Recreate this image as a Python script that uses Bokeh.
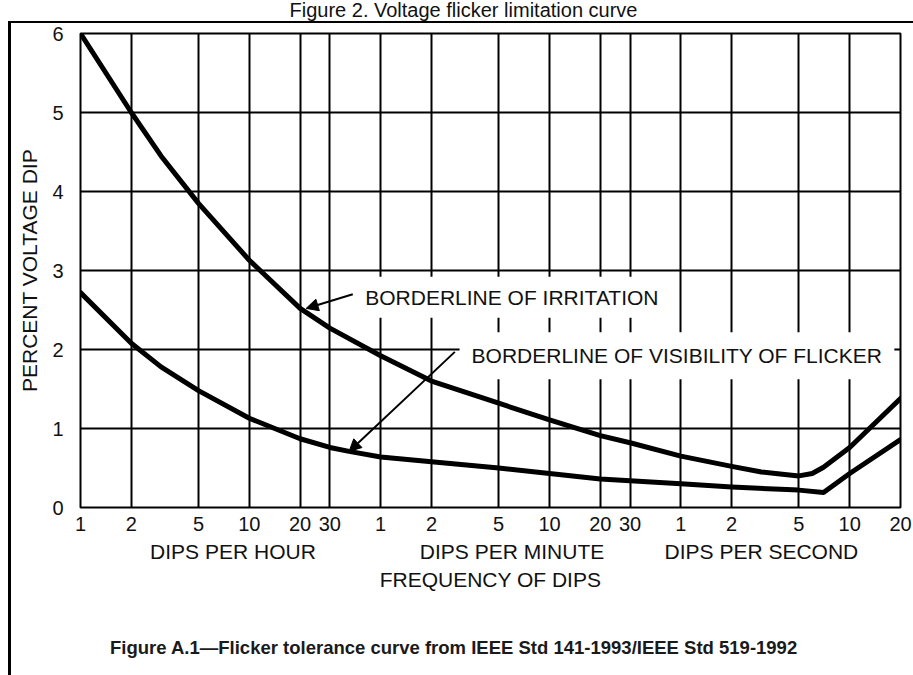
from bokeh.plotting import figure
from bokeh.models import (FixedTicker, LogAxis, Label, Arrow, NormalHead, Range1d,
                          Div, Spacer)
from bokeh.layouts import column, row
from bokeh.embed import file_html
from bokeh.resources import INLINE

# ---- data (frequency in dips per hour, value in percent voltage dip) ----
irritation_freq = [1, 2, 3, 5, 10, 20, 30, 60, 120, 300, 600, 1200, 1800,
                   3600, 7200, 10800, 14400, 18000, 21600, 25200, 36000, 72000]
irritation_pct = [6.0, 5.0, 4.45, 3.85, 3.13, 2.52, 2.27, 1.92, 1.60, 1.32,
                  1.11, 0.91, 0.82, 0.65, 0.52, 0.45, 0.42, 0.40, 0.43, 0.51,
                  0.76, 1.38]

visibility_freq = [1, 2, 3, 5, 10, 20, 30, 39, 60, 120, 300, 600, 1200, 1800,
                   3600, 7200, 18000, 25200, 36000, 72000]
visibility_pct = [2.72, 2.08, 1.78, 1.48, 1.13, 0.87, 0.76, 0.71, 0.64, 0.58,
                  0.50, 0.43, 0.36, 0.34, 0.30, 0.26, 0.22, 0.19, 0.43, 0.86]

tick_freq = [1, 2, 5, 10, 20, 30, 60, 120, 300, 600, 1200, 1800,
             3600, 7200, 18000, 36000, 72000]
tick_labels = ["1", "2", "5", "10", "20", "30", "1", "2", "5", "10", "20", "30",
               "1", "2", "5", "10", "20"]
group_freq = [8, 360, 10800]
group_labels = ["DIPS PER HOUR", "DIPS PER MINUTE", "DIPS PER SECOND"]
y_ticks = [0, 1, 2, 3, 4, 5, 6]

FONT = "Liberation Sans"
INK = "#111111"

p = figure(width=902, height=612, x_axis_type="log", title=None,
           x_range=Range1d(1, 72000), y_range=Range1d(0, 6),
           output_backend="svg", toolbar_location=None,
           min_border_left=69, min_border_right=13,
           min_border_top=10, min_border_bottom=128, margin=0)
p.background_fill_color = "white"
p.border_fill_color = "white"
p.outline_line_color = "black"
p.outline_line_width = 2

# x axis (tick numbers)
xa = p.xaxis[0]
xa.ticker = FixedTicker(ticks=tick_freq)
xa.major_label_overrides = {f: t for f, t in zip(tick_freq, tick_labels)}
xa.axis_line_color = None
xa.major_tick_line_color = None
xa.minor_tick_line_color = None
xa.major_label_standoff = 3
xa.major_label_text_font = FONT
xa.major_label_text_font_size = "20px"
xa.major_label_text_color = INK

# second x axis (group names + axis title)
xa2 = LogAxis(ticker=FixedTicker(ticks=group_freq),
              major_label_overrides={f: t for f, t in zip(group_freq, group_labels)},
              axis_label="FREQUENCY OF DIPS")
xa2.axis_line_color = None
xa2.major_tick_line_color = None
xa2.minor_tick_line_color = None
xa2.major_label_standoff = 0
xa2.major_label_text_font = FONT
xa2.major_label_text_font_size = "21px"
xa2.major_label_text_color = INK
xa2.axis_label_standoff = 2
xa2.axis_label_text_font = FONT
xa2.axis_label_text_font_size = "21px"
xa2.axis_label_text_font_style = "normal"
xa2.axis_label_text_color = INK
p.add_layout(xa2, "below")

ya = p.yaxis[0]
ya.ticker = FixedTicker(ticks=y_ticks)
ya.axis_line_color = None
ya.major_tick_line_color = None
ya.minor_tick_line_color = None
ya.major_label_standoff = 11
ya.major_label_text_font = FONT
ya.major_label_text_font_size = "20px"
ya.major_label_text_color = INK
ya.axis_label = "PERCENT VOLTAGE DIP"
ya.axis_label_standoff = 8
ya.axis_label_text_font = FONT
ya.axis_label_text_font_size = "21px"
ya.axis_label_text_font_style = "normal"
ya.axis_label_text_color = INK

p.xgrid.ticker = FixedTicker(ticks=tick_freq)
p.ygrid.ticker = FixedTicker(ticks=y_ticks)
for g in (p.xgrid[0], p.ygrid[0]):
    g.grid_line_color = "black"
    g.grid_line_width = 2
    g.grid_line_alpha = 1.0
    g.minor_grid_line_color = None

# annotation texts (white boxes hide grid behind them)
lab1 = Label(x=43, y=2.66, text="BORDERLINE OF IRRITATION",
             text_align="left", text_baseline="middle",
             text_font=FONT, text_font_size="21px", text_color=INK,
             background_fill_color="white", padding=9, level="underlay")
lab2 = Label(x=176, y=1.92, text="BORDERLINE OF VISIBILITY OF FLICKER",
             text_align="left", text_baseline="middle",
             text_font=FONT, text_font_size="21px", text_color=INK,
             background_fill_color="white", padding=12, level="underlay")
p.add_layout(lab1)
p.add_layout(lab2)

p.line(irritation_freq, irritation_pct, line_color="black", line_width=5,
       line_join="round", line_cap="round")
p.line(visibility_freq, visibility_pct, line_color="black", line_width=5,
       line_join="round", line_cap="round")

p.add_layout(Arrow(x_start=41, y_start=2.70, x_end=21.7, y_end=2.52,
                   line_width=2, line_color="black",
                   end=NormalHead(size=12, fill_color="black", line_color="black")))
p.add_layout(Arrow(x_start=165, y_start=1.97, x_end=39, y_end=0.71,
                   line_width=2, line_color="black",
                   end=NormalHead(size=12, fill_color="black", line_color="black")))

# document title, caption and the page frame rules
title_div = Div(text="Figure 2. Voltage flicker limitation curve", width=913, height=21,
                margin=0,
                styles={"font-family": "Liberation Sans", "font-size": "20px",
                        "line-height": "20px", "text-align": "center",
                        "color": "#111111", "text-indent": "14px"})
caption_div = Div(text="Figure A.1\u2014Flicker tolerance curve from IEEE Std 141-1993/IEEE Std 519-1992",
                  width=902, height=40, margin=0,
                  styles={"font-family": "Liberation Sans", "font-size": "18.5px",
                          "font-weight": "bold", "line-height": "26px",
                          "color": "#1a1a1a", "text-indent": "99px",
                          "white-space": "nowrap"})
top_rule = row(Spacer(width=8, height=2, margin=0),
               Div(text="", width=905, height=2, margin=0,
                   styles={"background-color": "black"}),
               margin=0, spacing=0)
main = row(Spacer(width=8, height=652, margin=0),
           Div(text="", width=3, height=652, margin=0,
               styles={"background-color": "black"}),
           column(p, caption_div, margin=0, spacing=0),
           margin=0, spacing=0)
page = column(title_div, top_rule, main, margin=0, spacing=0)

open("out.html", "w").write(file_html(page, INLINE))
